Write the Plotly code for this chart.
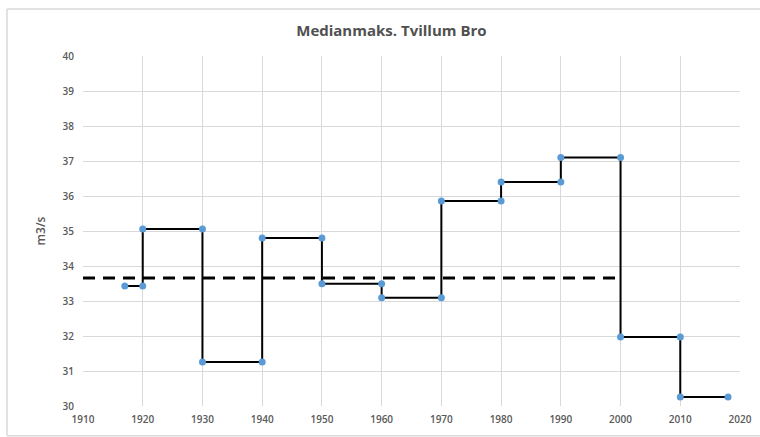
import plotly.graph_objects as go

# Data: median maximum discharge per period (m3/s)
period_start = [1917, 1920, 1930, 1940, 1950, 1960, 1970, 1980, 1990, 2000, 2010]
period_end = [1920, 1930, 1940, 1950, 1960, 1970, 1980, 1990, 2000, 2010, 2018]
period_value = [33.43, 35.06, 31.26, 34.8, 33.49, 33.09, 35.86, 36.4, 37.1, 31.97, 30.26]

overall_x = [1910, 2000]
overall_value = [33.66, 33.66]

x_ticks = [1910, 1920, 1930, 1940, 1950, 1960, 1970, 1980, 1990, 2000, 2010, 2020]
y_ticks = [30, 31, 32, 33, 34, 35, 36, 37, 38, 39, 40]

step_x, step_y = [], []
for s, e, v in zip(period_start, period_end, period_value):
    step_x += [s, e]
    step_y += [v, v]

fig = go.Figure()
fig.add_trace(go.Scatter(
    x=overall_x, y=overall_value, mode="lines",
    line=dict(color="black", width=3, dash="12px,8px"),
    showlegend=False, hoverinfo="skip"))
fig.add_trace(go.Scatter(
    x=step_x, y=step_y, mode="lines+markers",
    line=dict(color="black", width=2),
    marker=dict(color="#5B9BD5", size=7),
    showlegend=False))

font_family = "Open Sans, Liberation Sans, sans-serif"
border = dict(color="#d9d9d9", width=1.5)
fig.update_layout(
    width=760, height=437,
    margin=dict(l=83, r=20, t=56, b=31, autoexpand=False),
    paper_bgcolor="white", plot_bgcolor="white",
    title=dict(text="Medianmaks. Tvillum Bro", x=0.515, xanchor="center",
               y=0.93, yanchor="middle",
               font=dict(family=font_family, size=15, color="#505050", weight="bold")),
    font=dict(family=font_family, size=10, color="#595959"),
    xaxis=dict(range=[1910, 2020], tickvals=x_ticks, showgrid=True,
               gridcolor="#d9d9d9", gridwidth=1, zeroline=False, automargin=False,
               showline=False, ticks="", ticklabelstandoff=6,
               tickfont=dict(size=10, color="#595959", weight=600)),
    yaxis=dict(range=[30, 40], tickvals=y_ticks, showgrid=True,
               gridcolor="#d9d9d9", gridwidth=1, zeroline=False, automargin=False,
               showline=False, ticks="", ticklabelstandoff=8,
               tickfont=dict(size=10, color="#595959", weight=600),
               title=dict(text="m3/s", standoff=14,
                          font=dict(size=12, color="#595959", weight=600))),
    shapes=[
        dict(type="line", xref="paper", yref="paper", x0=-0.1157, x1=-0.1157,
             y0=-0.085, y1=1.134, line=border, layer="below"),
        dict(type="line", xref="paper", yref="paper", x0=-0.1157, x1=1.0304,
             y0=1.134, y1=1.134, line=border, layer="below"),
        dict(type="line", xref="paper", yref="paper", x0=-0.1157, x1=1.0304,
             y0=-0.085, y1=-0.085, line=border, layer="below"),
    ],
)

fig.write_html("out.html", config={"displayModeBar": False},
               post_script="document.body.style.margin='0';document.body.style.overflow='hidden';")
